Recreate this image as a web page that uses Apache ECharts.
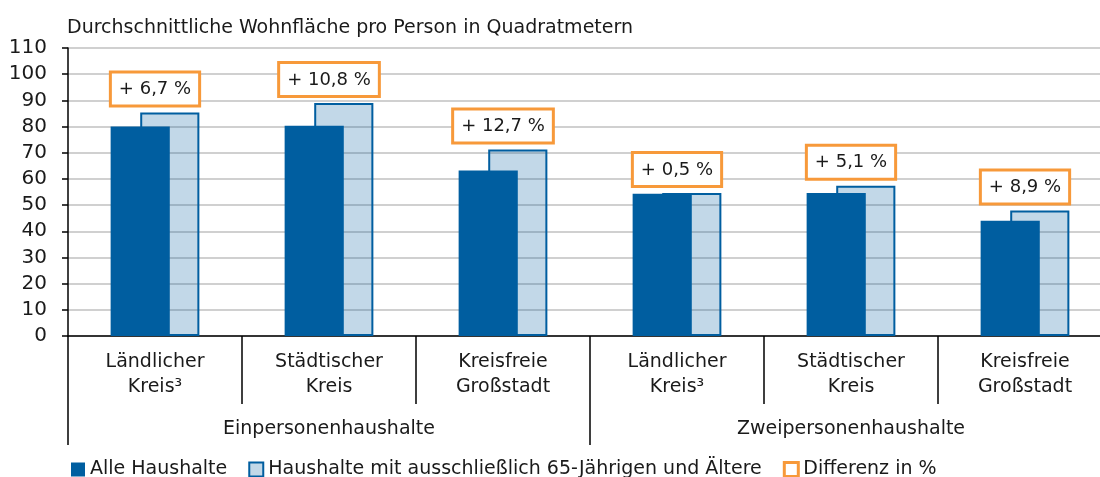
<!DOCTYPE html>
<html>
<head>
<meta charset="utf-8">
<script src="https://cdn.jsdelivr.net/npm/echarts@6/dist/echarts.min.js"></script>
<style>
	html, body { margin: 0; padding: 0; background: #fff; overflow: hidden; }
	/* the last category runs past the right edge of the picture */
	#chart { width: 1112px; height: 477px; }
</style>
</head>
<body>
<div id="chart"></div>
<script>
	var categories = ['Ländlicher\nKreis³', 'Städtischer\nKreis', 'Kreisfreie\nGroßstadt', 'Ländlicher\nKreis³', 'Städtischer\nKreis', 'Kreisfreie\nGroßstadt'];
	var groups = ['Einpersonenhaushalte', 'Zweipersonenhaushalte'];
	var alleHaushalte = [80.0, 80.3, 63.2, 54.3, 54.6, 44.0];
	var seniorenHaushalte = [85.4, 89.0, 71.2, 54.6, 57.4, 47.9];
	var differenz = [6.7, 10.8, 12.7, 0.5, 5.1, 8.9];
	var yMin = 0, yMax = 110, yStep = 10;

	var dunkel = '#005EA0';
	var hell = 'rgba(0, 94, 160, 0.24)';
	var orange = '#F7993A';
	var textColor = '#1a1a1a';

	// Box sits on the taller bar of each pair
	var boxAnchor = seniorenHaushalte.map(function(v, i) {
		return Math.max(v, alleHaushalte[i]);
	});

	var chart = echarts.init(document.getElementById('chart'));

	var option = {
		backgroundColor: '#fff',
		animation: false,
		textStyle: {
			fontFamily: 'DejaVu Sans',
			color: textColor
		},
		title: {
			text: 'Durchschnittliche Wohnfläche pro Person in Quadratmetern',
			left: 62,
			top: 14,
			textStyle: {
				color: textColor,
				fontSize: 19,
				fontWeight: 'normal'
			}
		},
		legend: {
			left: 66,
			top: 455,
			itemWidth: 14,
			itemHeight: 14,
			itemGap: 21,
			textStyle: {
				color: textColor,
				fontSize: 19
			},
			data: [
				{ name: 'Alle Haushalte', icon: 'rect', itemStyle: { color: dunkel } },
				{ name: 'Haushalte mit ausschließlich 65-Jährigen und Ältere', icon: 'rect', itemStyle: { color: '#C2D8E8', borderColor: dunkel, borderWidth: 2 } },
				{ name: 'Differenz in %', icon: 'rect', itemStyle: { color: '#fff', borderColor: orange, borderWidth: 3, opacity: 1 } }
			]
		},
		grid: {
			left: 68,
			right: 0,
			top: 48,
			bottom: 141,
			containLabel: false
		},
		xAxis: [{
			type: 'category',
			data: categories,
			axisLine: { lineStyle: { color: '#000', width: 1.5 } },
			axisTick: { show: true, interval: 0, length: 68, lineStyle: { color: '#000', width: 1.5 } },
			axisLabel: {
				interval: 0,
				color: textColor,
				fontSize: 19,
				lineHeight: 25,
				margin: 14
			}
		}, {
			type: 'category',
			data: groups,
			position: 'bottom',
			offset: 68,
			axisLine: { show: false },
			axisTick: { show: true, interval: 0, length: 41, lineStyle: { color: '#000', width: 1.5 } },
			axisLabel: {
				interval: 0,
				color: textColor,
				fontSize: 19,
				margin: 16
			}
		}],
		yAxis: {
			type: 'value',
			min: yMin,
			max: yMax,
			interval: yStep,
			axisLine: { show: true, lineStyle: { color: '#000', width: 1.5 } },
			axisTick: { show: true, length: 6, lineStyle: { color: '#000', width: 1.5 } },
			axisLabel: {
				color: textColor,
				fontSize: 20,
				margin: 21
			},
			splitLine: {
				show: true,
				lineStyle: { color: '#C0C0C0', width: 1.5 }
			}
		},
		series: [{
			name: 'Alle Haushalte',
			type: 'bar',
			data: alleHaushalte,
			barWidth: '34%',
			barGap: '-50%',
			z: 3,
			itemStyle: { color: dunkel }
		}, {
			name: 'Haushalte mit ausschließlich 65-Jährigen und Ältere',
			type: 'bar',
			data: seniorenHaushalte,
			barWidth: '34%',
			barGap: '-50%',
			z: 2,
			itemStyle: { color: hell, borderColor: dunkel, borderWidth: 2 }
		}, {
			name: 'Differenz in %',
			type: 'scatter',
			data: boxAnchor,
			symbolSize: 0,
			z: 4,
			itemStyle: { color: '#fff', borderColor: orange, borderWidth: 3, opacity: 1 },
			label: {
				show: true,
				position: 'top',
				distance: 8,
				formatter: function(p) {
					return '+ ' + differenz[p.dataIndex].toFixed(1).replace('.', ',') + ' %';
				},
				color: textColor,
				fontSize: 18,
				lineHeight: 20,
				backgroundColor: '#fff',
				borderColor: orange,
				borderWidth: 3,
				padding: [6, 7, 5, 7]
			}
		}]
	};

	chart.setOption(option);

	window.onresize = function() {
		chart.resize();
	};
</script>
</body>
</html>
